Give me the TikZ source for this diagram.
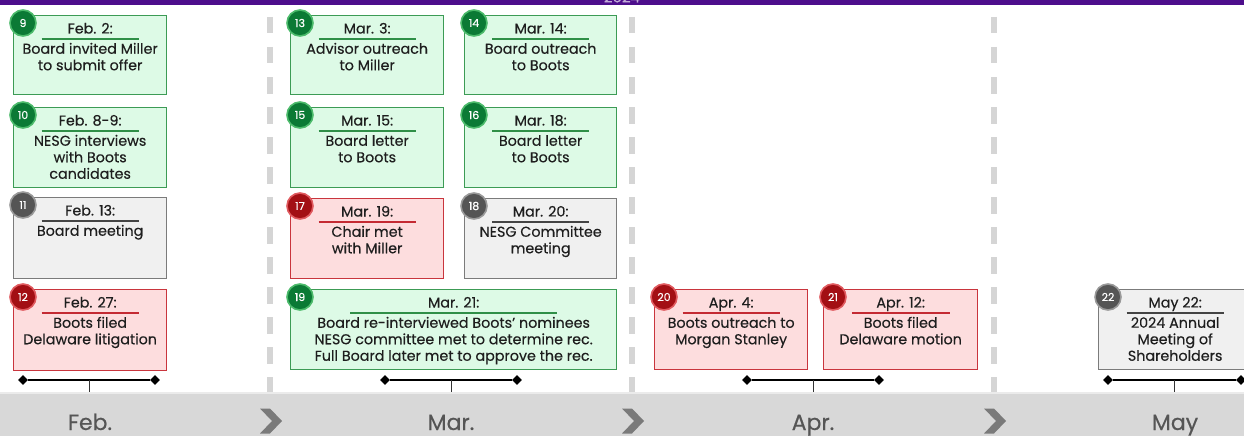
\documentclass[tikz,border=0pt]{standalone}
\usepackage{fontspec}
\setmainfont{Poppins}[FakeBold=0.35]
\usetikzlibrary{calc,shapes.geometric}

\definecolor{topbar}{HTML}{4D0E8C}
\definecolor{inktext}{HTML}{1E1E1E}
\definecolor{grnfill}{HTML}{DDFAE6}
\definecolor{grnline}{HTML}{3C9B55}
\definecolor{grnrule}{HTML}{2F8F47}
\definecolor{grnbadgefill}{HTML}{0B7A35}
\definecolor{grnbadgering}{HTML}{4DBB6C}
\definecolor{redfill}{HTML}{FDDDDE}
\definecolor{redline}{HTML}{C9353D}
\definecolor{redrule}{HTML}{C42A33}
\definecolor{redbadgefill}{HTML}{A30F14}
\definecolor{redbadgering}{HTML}{E05A5F}
\definecolor{gryfill}{HTML}{F0F0F0}
\definecolor{gryline}{HTML}{7B7B7B}
\definecolor{gryrule}{HTML}{444444}
\definecolor{grybadgefill}{HTML}{555555}
\definecolor{grybadgering}{HTML}{9A9A9A}
\definecolor{sepgray}{HTML}{D5D5D5}
\definecolor{bandgray}{HTML}{D8D8D8}
\definecolor{chevgray}{HTML}{7A7A7A}
\definecolor{monthtext}{HTML}{555555}

\tikzset{
  evbox/.style={anchor=north west, inner sep=0pt, line width=1.3pt},
  grnbox/.style={fill=grnfill, draw=grnline},
  redbox/.style={fill=redfill, draw=redline},
  grybox/.style={fill=gryfill, draw=gryline},
  grnul/.style={draw=grnrule, line width=1.2pt},
  redul/.style={draw=redrule, line width=1.2pt},
  gryul/.style={draw=gryrule, line width=1.2pt},
  badge/.style={circle, minimum size=26pt, inner sep=0pt, line width=1.6pt,
    text=white, font=\fontsize{11}{12}\selectfont},
  grnbadge/.style={fill=grnbadgefill, draw=grnbadgering},
  redbadge/.style={fill=redbadgefill, draw=redbadgering},
  grybadge/.style={fill=grybadgefill, draw=grybadgering},
  datetext/.style={anchor=base, inner sep=0pt, text=inktext,
    font=\fontsize{14.3}{16.5}\selectfont},
  bodytext/.style={anchor=north, inner sep=0pt, align=center, text=inktext,
    font=\fontsize{14.3}{16.5}\selectfont},
  sepline/.style={draw=sepgray, line width=6pt, dash pattern=on 16.5pt off 13.5pt},
  tipmark/.style={diamond, fill=black, inner sep=0pt, minimum width=10pt, minimum height=10pt},
  bracket/.style={draw=black, line width=1.8pt},
  ticker/.style={draw=black!80, line width=0.9pt},
  month/.style={anchor=base, inner sep=0pt, text=monthtext,
    font=\fontsize{22}{24}\selectfont},
}

% #1 name, #2 kind (grn/red/gry), #3 x, #4 y, #5 width, #6 height,
% #7 number, #8 date, #9 description
\newcommand\eventcard[9]{%
  \node[evbox, #2box, minimum width=#5, minimum height=#6] (#1) at (#3,#4) {};
  \node[datetext] (#1-d) at ($(#1.north)+(0,18.5)$) {#8};
  \pgfmathsetmacro\rulehalf{0.3175*#5}
  \draw[#2ul] ($(#1.north)+(-\rulehalf,24)$) -- ($(#1.north)+(\rulehalf,24)$);
  \node[bodytext] (#1-b) at ($(#1.north)+(0,27)$) {\strut #9};
  \node[badge, #2badge] (#1-n) at ($(#1.north west)+(10,8)$) {#7};
}

% month chevron centred at (#1,#2)
\newcommand\chevron[2]{%
  \fill[chevgray] ($(#1,#2)+(-11,-12.5)$) -- ++(10,0) -- ++(12,12.5) -- ++(-12,12.5)
    -- ++(-10,0) -- ++(12,-12.5) -- cycle;
}

\begin{document}
\begin{tikzpicture}[x=1pt, y=-1pt]
  \useasboundingbox (0,0) rectangle (1244,436);
  \clip (0,0) rectangle (1244,436);
  \fill[white] (0,0) rectangle (1244,436);

  % header strip
  \fill[topbar] (0,0) rectangle (1244,5);
  \node[anchor=base, inner sep=0pt, text=topbar!35!white,
    font=\fontsize{15}{16}\selectfont] (yearlabel) at (622,2.5) {2024};

  % month separators
  \draw[sepline] (270,17) -- (270,392);
  \draw[sepline] (632,17) -- (632,392);
  \draw[sepline] (994,17) -- (994,392);

  % February
  \eventcard{e9}{grn}{13}{15}{153}{79}{9}{Feb. 2:}{Board invited Miller\\to submit offer}
  \eventcard{e10}{grn}{13}{107}{153}{80}{10}{Feb. 8-9:}{NESG interviews\\with Boots\\candidates}
  \eventcard{e11}{gry}{13}{197}{153}{81}{11}{Feb. 13:}{Board meeting}
  \eventcard{e12}{red}{13}{289}{153}{81}{12}{Feb. 27:}{Boots filed\\Delaware litigation}

  % March
  \eventcard{e13}{grn}{290}{15}{153}{79}{13}{Mar. 3:}{Advisor outreach\\to Miller}
  \eventcard{e14}{grn}{464}{15}{152}{79}{14}{Mar. 14:}{Board outreach\\to Boots}
  \eventcard{e15}{grn}{290}{107}{153}{80}{15}{Mar. 15:}{Board letter\\to Boots}
  \eventcard{e16}{grn}{464}{107}{152}{80}{16}{Mar. 18:}{Board letter\\to Boots}
  \eventcard{e17}{red}{290}{198}{153}{80}{17}{Mar. 19:}{Chair met\\with Miller}
  \eventcard{e18}{gry}{464}{198}{152}{80}{18}{Mar. 20:}{NESG Committee\\meeting}
  \eventcard{e19}{grn}{290}{289}{326}{80}{19}{Mar. 21:}{Board re-interviewed Boots’ nominees\\NESG committee met to determine rec.\\Full Board later met to approve the rec.}

  % April
  \eventcard{e20}{red}{654}{289}{153}{80}{20}{Apr. 4:}{Boots outreach to\\Morgan Stanley}
  \eventcard{e21}{red}{823}{289}{154}{80}{21}{Apr. 12:}{Boots filed\\Delaware motion}

  % May
  \eventcard{e22}{gry}{1098}{289}{153}{80}{22}{May 22:}{2024 Annual\\Meeting of\\Shareholders}

  % month band
  \fill[bandgray] (0,392) rectangle (1244,436);
  \fill[white, opacity=0.5] (0,392) rectangle (1244,393.5);
  \node[month] (feb) at (90,430) {Feb.};
  \node[month] (mar) at (451,430) {Mar.};
  \node[month] (apr) at (813,430) {Apr.};
  \node[month] (may) at (1175,430) {May};
  \chevron{271}{421}
  \chevron{633}{421}
  \chevron{995}{421}

  % range brackets above each month
  \foreach \m/\l/\r in {feb/23/155, mar/385/517, apr/747/879, may/1108/1241}{
    \node[tipmark] (\m-l) at (\l,380) {};
    \node[tipmark] (\m-r) at (\r,380) {};
    \draw[bracket] (\m-l) -- (\m-r);
    \coordinate (\m-mid) at ($(\m-l)!0.5!(\m-r)$);
    \coordinate (\m-top) at (\m-mid |- 0,392);
    \draw[ticker] (\m-mid) -- (\m-top);
  }
\end{tikzpicture}
\end{document}
